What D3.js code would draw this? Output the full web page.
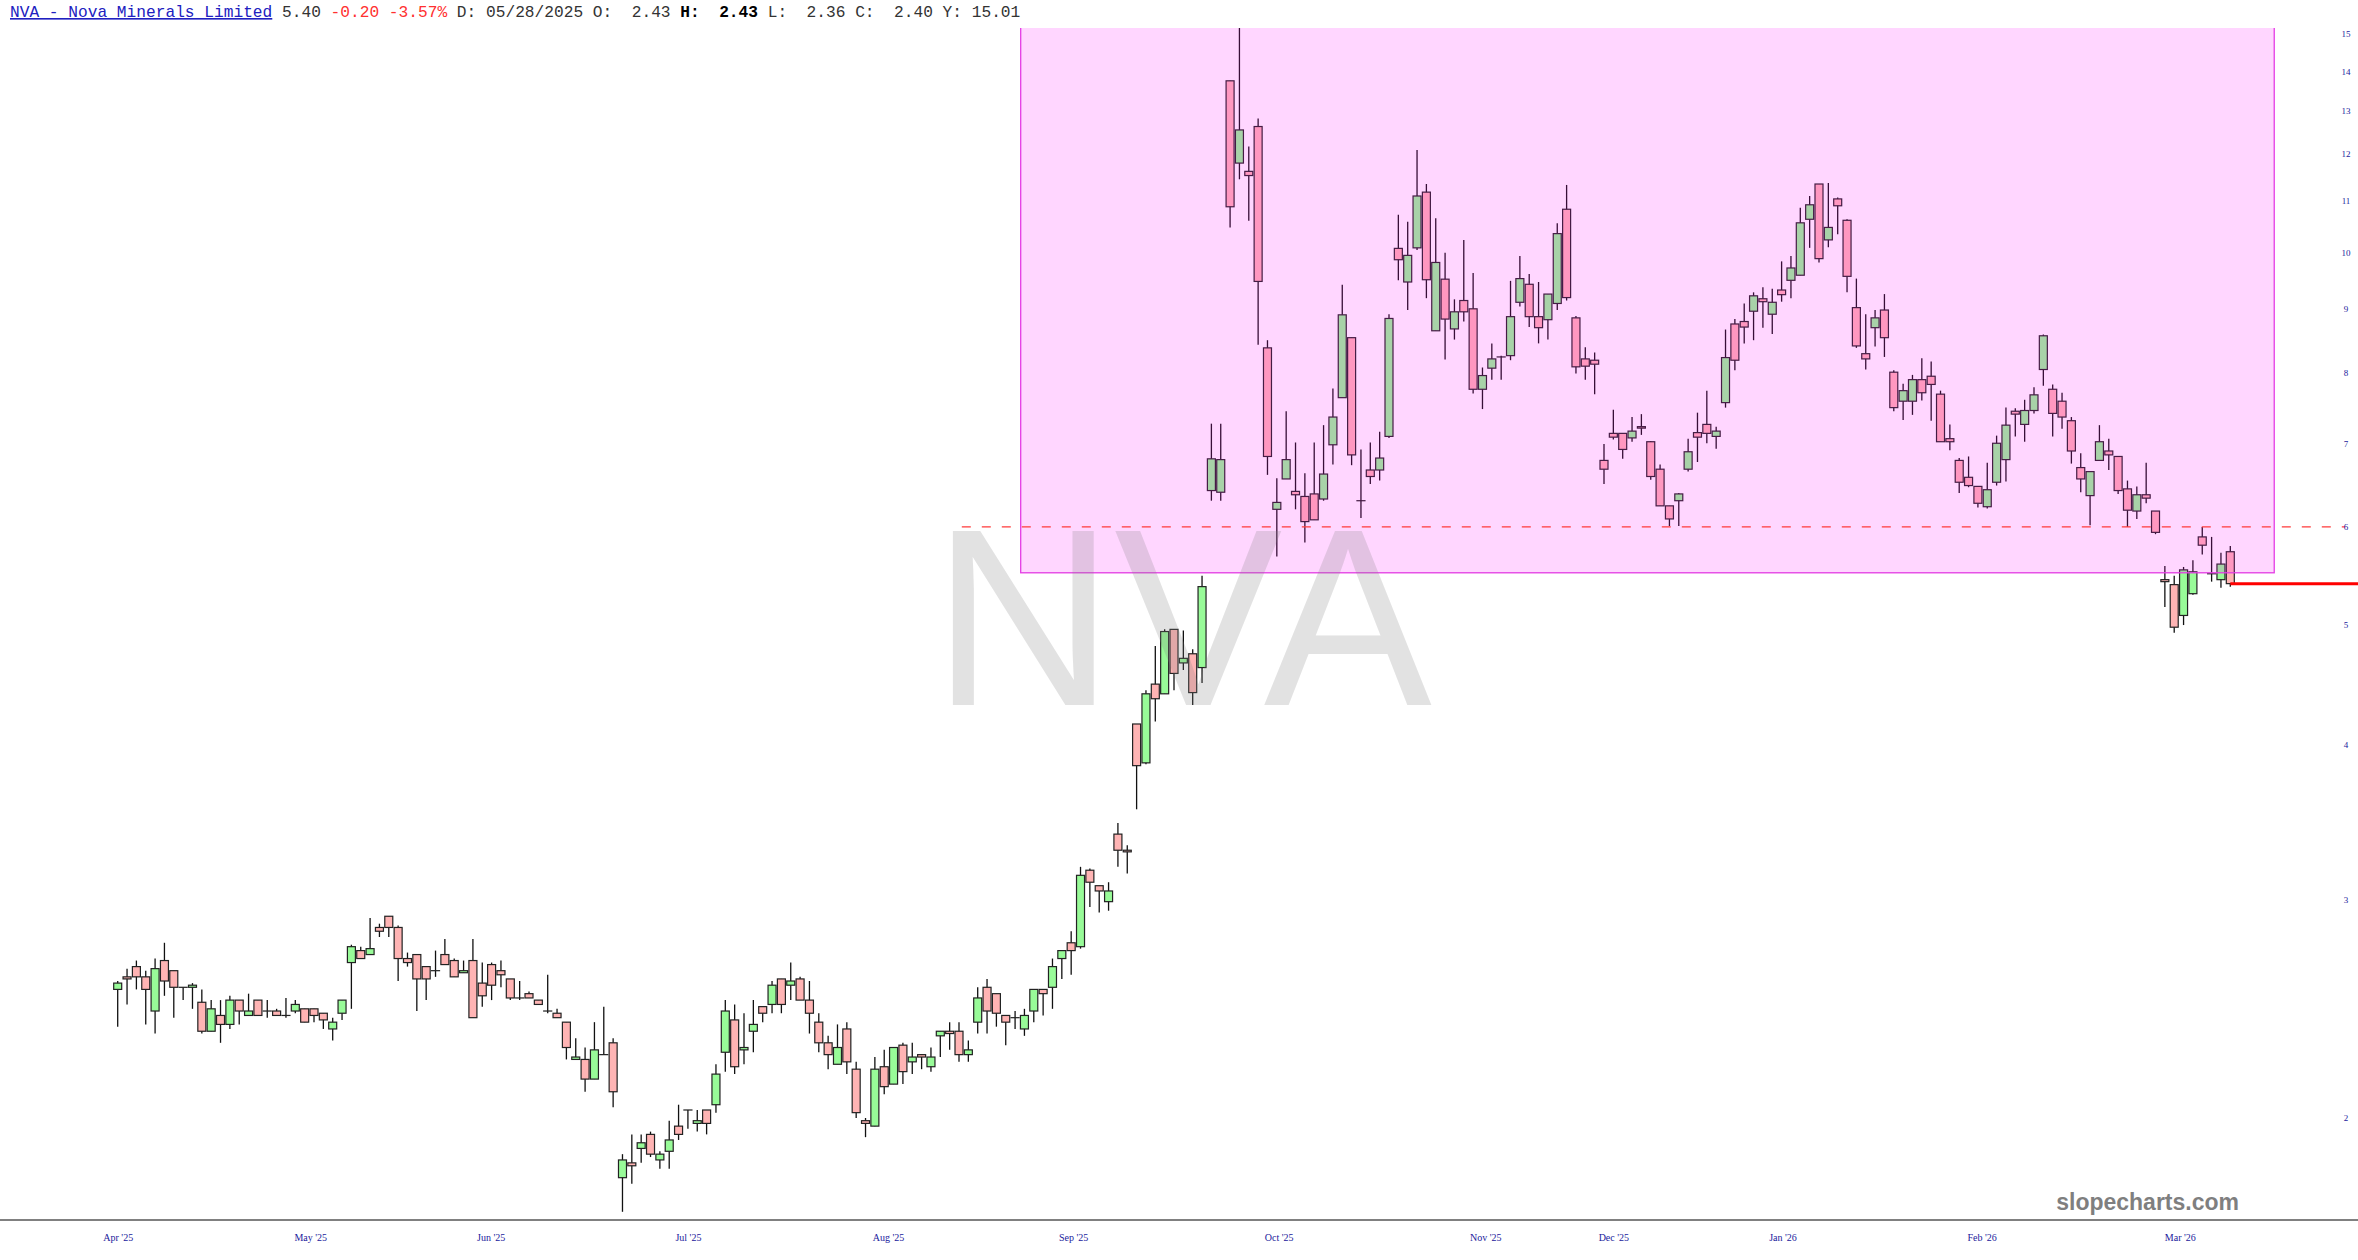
<!DOCTYPE html>
<html>
<head>
<meta charset="utf-8">
<script src="https://cdnjs.cloudflare.com/ajax/libs/d3/7.8.5/d3.min.js"></script>
<style>
  body { margin: 0; background: #fff; }
  svg { display: block; }
</style>
</head>
<body>
<div id="chart"></div>
<script>
// daily candles, Apr '25 -> Mar '26
const opens = [2.54,2.60,2.65,2.60,2.44,2.68,2.63,2.55,2.55,2.48,2.35,2.42,2.38,2.49,2.42,2.49,2.44,2.44,2.42,2.44,
  2.45,2.45,2.43,2.36,2.43,2.67,2.73,2.71,2.85,2.91,2.85,2.69,2.71,2.65,2.63,2.71,2.68,2.62,2.68,2.57,
  2.66,2.63,2.59,2.50,2.52,2.49,2.44,2.43,2.39,2.23,2.23,2.15,2.25,2.30,1.79,1.84,1.89,1.94,1.85,1.88,
  1.97,2.03,1.98,2.03,2.05,2.26,2.40,2.27,2.35,2.46,2.47,2.59,2.56,2.59,2.49,2.39,2.30,2.21,2.36,2.19,
  1.99,1.97,2.20,2.13,2.29,2.22,2.25,2.20,2.33,2.35,2.35,2.25,2.39,2.55,2.52,2.42,2.41,2.36,2.44,2.54,
  2.55,2.69,2.77,2.75,3.17,3.08,2.99,3.39,3.29,4.16,3.87,4.48,4.40,4.96,4.66,4.74,4.62,6.42,6.40,13.75,
  11.80,11.62,12.63,8.37,6.20,6.56,6.41,6.35,6.38,6.32,6.99,7.63,8.53,6.30,6.67,6.67,7.10,10.07,9.46,10.08,
  11.18,8.64,9.51,8.67,9.14,9.00,7.75,8.06,8.23,8.25,9.11,9.42,8.87,8.82,9.09,10.83,8.85,8.20,8.18,6.79,
  7.14,7.14,7.08,7.23,7.03,6.68,6.24,6.30,6.68,7.15,7.26,7.10,7.56,8.75,8.79,8.96,9.17,8.91,9.32,9.49,
  9.58,10.63,11.35,10.23,11.04,10.61,9.02,8.28,8.69,8.98,8.00,7.58,7.58,7.89,7.94,7.68,7.07,6.79,6.58,6.47,
  6.23,6.52,6.80,7.44,7.26,7.45,8.04,7.75,7.58,7.31,6.70,6.36,6.79,6.91,6.84,6.44,6.18,6.37,6.18,5.44,
  5.39,5.09,5.30,5.89,5.50,5.44,5.73];
const highs = [2.58,2.64,2.68,2.63,2.69,2.77,2.63,2.55,2.57,2.54,2.49,2.49,2.51,2.49,2.52,2.49,2.49,2.45,2.50,2.49,
  2.45,2.45,2.43,2.41,2.49,2.76,2.75,2.90,2.87,2.91,2.86,2.72,2.71,2.65,2.73,2.79,2.69,2.68,2.79,2.67,
  2.67,2.68,2.59,2.58,2.53,2.49,2.61,2.45,2.39,2.32,2.28,2.39,2.46,2.32,1.87,1.94,1.94,1.95,1.88,1.99,
  2.05,2.03,2.03,2.03,2.21,2.49,2.47,2.43,2.49,2.46,2.58,2.59,2.67,2.60,2.58,2.43,2.33,2.38,2.39,2.22,
  2.00,2.24,2.27,2.28,2.30,2.30,2.25,2.28,2.35,2.39,2.39,2.31,2.55,2.59,2.52,2.42,2.44,2.45,2.54,2.54,
  2.69,2.73,2.83,3.19,3.18,3.08,3.10,3.46,3.32,4.16,4.43,4.81,4.96,4.96,4.95,4.78,5.48,7.27,7.27,13.75,
  15.6,12.17,12.82,8.49,6.57,7.44,7.02,6.63,7.02,7.25,7.76,9.41,8.53,6.93,7.02,7.16,8.91,10.72,10.58,12.09,
  11.35,10.65,9.99,9.16,10.23,9.62,8.07,8.44,8.25,9.48,9.93,9.60,9.46,9.25,10.55,11.33,8.88,8.38,8.30,7.00,
  7.46,7.14,7.36,7.40,7.04,6.74,6.24,6.39,7.07,7.42,7.73,7.23,8.66,8.83,9.09,9.28,9.37,9.34,9.83,9.93,
  10.86,11.10,11.35,11.37,11.07,10.63,9.52,8.91,8.98,9.25,8.03,7.83,7.96,8.21,8.16,7.73,7.26,6.82,6.84,6.47,
  6.76,7.11,7.49,7.48,7.60,7.78,8.58,7.82,7.70,7.36,6.88,6.65,7.25,7.07,6.84,6.54,6.47,6.76,6.18,5.58,
  5.48,5.57,5.64,6.00,5.89,5.72,5.79];
const lows = [2.37,2.47,2.54,2.38,2.34,2.51,2.41,2.49,2.45,2.34,2.35,2.30,2.36,2.38,2.42,2.42,2.41,2.42,2.41,2.43,
  2.39,2.39,2.36,2.31,2.40,2.45,2.69,2.71,2.80,2.80,2.58,2.65,2.44,2.49,2.60,2.66,2.60,2.62,2.41,2.46,
  2.49,2.55,2.49,2.49,2.50,2.47,2.43,2.41,2.23,2.23,2.10,2.15,2.25,2.04,1.68,1.77,1.84,1.86,1.82,1.82,
  1.92,1.96,1.95,1.94,2.02,2.18,2.17,2.21,2.26,2.39,2.43,2.43,2.49,2.49,2.34,2.26,2.19,2.21,2.17,2.00,
  1.93,1.97,2.09,2.13,2.13,2.17,2.19,2.18,2.24,2.27,2.22,2.22,2.34,2.34,2.37,2.29,2.36,2.33,2.39,2.42,
  2.45,2.59,2.61,2.74,2.96,2.93,2.94,3.19,3.15,3.55,3.86,4.18,4.40,4.43,4.60,4.31,4.49,6.30,6.30,10.47,
  11.45,10.60,8.42,6.61,5.68,6.56,6.20,5.83,6.08,6.30,6.74,7.63,6.73,6.10,6.50,6.54,7.08,9.49,8.98,10.04,
  9.18,8.64,8.19,8.50,8.79,7.69,7.47,7.89,7.89,8.18,9.04,8.70,8.44,8.50,8.98,9.14,7.98,7.89,7.68,6.50,
  7.06,6.81,7.03,7.12,6.55,6.24,6.01,6.01,6.65,6.77,7.01,6.94,7.49,8.03,8.44,8.49,8.69,8.59,9.12,9.18,
  9.58,10.08,9.81,10.09,10.34,9.28,8.37,8.04,8.39,8.23,7.44,7.32,7.39,7.59,7.31,7.03,6.92,6.39,6.46,6.22,
  6.21,6.48,6.53,7.10,7.03,7.41,7.80,7.10,7.20,6.75,6.40,6.02,6.79,6.67,6.38,6.00,6.09,6.27,5.92,5.17,
  4.93,5.00,5.29,5.70,5.42,5.36,5.37];
const closes = [2.57,2.59,2.60,2.54,2.64,2.58,2.55,2.55,2.56,2.35,2.45,2.38,2.49,2.44,2.44,2.42,2.44,2.42,2.42,2.47,
  2.39,2.42,2.40,2.39,2.49,2.75,2.69,2.74,2.83,2.85,2.69,2.67,2.59,2.59,2.63,2.66,2.60,2.63,2.41,2.51,
  2.56,2.61,2.50,2.50,2.50,2.47,2.44,2.41,2.28,2.24,2.15,2.27,2.25,2.10,1.85,1.83,1.91,1.87,1.87,1.92,
  1.94,2.03,1.99,1.98,2.17,2.44,2.20,2.28,2.38,2.43,2.56,2.47,2.58,2.49,2.43,2.30,2.25,2.28,2.22,2.02,
  1.98,2.19,2.12,2.28,2.18,2.24,2.24,2.24,2.35,2.34,2.25,2.27,2.50,2.44,2.43,2.39,2.41,2.42,2.54,2.52,
  2.65,2.73,2.73,3.14,3.10,3.05,3.05,3.29,3.28,3.85,4.40,4.36,4.94,4.57,4.70,4.41,5.37,6.81,6.80,10.88,
  12.55,11.53,9.47,6.84,6.28,6.80,6.37,6.06,6.08,6.62,7.36,8.90,6.86,6.30,6.59,6.82,8.84,9.86,9.94,11.10,
  9.50,9.81,8.83,8.95,8.95,7.75,7.95,8.20,8.23,8.87,9.52,8.87,8.69,9.25,10.35,9.19,8.08,8.09,8.12,6.68,
  7.09,6.93,7.17,7.21,6.59,6.24,6.09,6.38,6.90,7.09,7.14,7.17,8.22,8.18,8.70,9.22,9.12,9.11,9.24,9.71,
  10.56,10.92,9.88,10.47,10.90,9.56,8.40,8.20,8.85,8.53,7.49,7.73,7.89,7.70,7.82,7.03,7.03,6.52,6.48,6.27,
  6.43,7.01,7.25,7.40,7.45,7.67,8.56,7.41,7.36,6.91,6.56,6.65,7.03,6.86,6.42,6.19,6.37,6.33,5.94,5.42,
  4.98,5.54,5.52,5.80,5.50,5.60,5.40];

// month labels sit at these candle positions
const monthLabels = ["Apr '25","May '25","Jun '25","Jul '25","Aug '25","Sep '25","Oct '25","Nov '25","Dec '25","Jan '26","Feb '26","Mar '26"];
const monthPos = [0, 20.6, 39.9, 61.0, 82.4, 102.2, 124.2, 146.3, 160.0, 178.1, 199.4, 220.6];
const priceTicks = [2,3,4,5,6,7,8,9,10,11,12,13,14,15];

// shaded range + levels
const zoneStart = 96.6, zoneEnd = 230.7, zoneLow = 5.51, zoneHigh = 30;
const supportLevel = 6.0, supportStart = 90.3, supportEnd = 238.3;
const lastClose = closes[closes.length - 1];

const W = 2358, H = 1260;
const plotTop = 28, plotBottom = 1220;

const svg = d3.select("#chart").append("svg")
    .attr("width", W).attr("height", H)
    .style("font-family", "'Liberation Sans', Arial, sans-serif");

svg.append("rect").attr("width", W).attr("height", H).attr("fill", "#fff");

const x = d3.scaleLinear().domain([0, closes.length - 1]).range([117.7, 2230.3]);
const y = d3.scaleLog().domain([2, 15]).range([1118, 34]);

svg.append("defs").append("clipPath").attr("id", "plotclip")
    .append("rect").attr("x", 0).attr("y", plotTop).attr("width", W).attr("height", plotBottom - plotTop);

const plot = svg.append("g").attr("clip-path", "url(#plotclip)");

const candles = closes.map((c, i) => ({i: i, o: opens[i], h: highs[i], l: lows[i], c: c}));
const bodyW = 8;

// wicks
plot.append("g").selectAll("line").data(candles).join("line")
    .attr("x1", d => x(d.i)).attr("x2", d => x(d.i))
    .attr("y1", d => y(d.h)).attr("y2", d => y(d.l))
    .attr("stroke", "#111").attr("stroke-width", 1.3);

// bodies
plot.append("g").selectAll("rect").data(candles).join("rect")
    .attr("x", d => x(d.i) - bodyW / 2)
    .attr("width", bodyW)
    .attr("y", d => y(Math.max(d.o, d.c)))
    .attr("height", d => Math.max(0.01, Math.abs(y(d.o) - y(d.c))))
    .attr("fill", d => d.c >= d.o ? "#98fb98" : "#ffb4b4")
    .attr("stroke", "#222")
    .attr("stroke-width", 1.2);

// big ticker watermark
svg.append("text")
    .attr("x", 1182).attr("y", 705)
    .attr("text-anchor", "middle")
    .attr("font-size", 252)
    .attr("fill", "#808080")
    .attr("fill-opacity", 0.23)
    .text("NVA");

// shaded zone
plot.append("rect")
    .attr("x", x(zoneStart))
    .attr("width", x(zoneEnd) - x(zoneStart))
    .attr("y", y(zoneHigh))
    .attr("height", y(zoneLow) - y(zoneHigh))
    .attr("fill", "#ff00ff").attr("fill-opacity", 0.16)
    .attr("stroke", "#e43ce4").attr("stroke-width", 1.3);

// dashed level
plot.append("line")
    .attr("x1", x(supportStart)).attr("x2", x(supportEnd))
    .attr("y1", y(supportLevel)).attr("y2", y(supportLevel))
    .attr("stroke", "#ff3b3b").attr("stroke-width", 1.3)
    .attr("stroke-dasharray", "9,11");

// last price line
plot.append("line")
    .attr("x1", x(closes.length - 1)).attr("x2", W)
    .attr("y1", y(lastClose)).attr("y2", y(lastClose))
    .attr("stroke", "#ff0000").attr("stroke-width", 3);

// right price axis
const yAxis = d3.axisRight(y).tickValues(priceTicks).tickFormat(d3.format("d")).tickSize(0);
const ya = svg.append("g").attr("transform", "translate(2346,0)").call(yAxis);
ya.select(".domain").remove();
ya.selectAll("text")
    .attr("x", 0).attr("text-anchor", "middle")
    .attr("fill", "#1a1a9c")
    .style("font-family", "'Liberation Serif', serif")
    .style("font-size", "9px");

// bottom axis
svg.append("line").attr("x1", 0).attr("x2", W).attr("y1", plotBottom).attr("y2", plotBottom)
    .attr("stroke", "#808080").attr("stroke-width", 2);
const xAxis = d3.axisBottom(x).tickValues(monthPos).tickFormat((d, i) => monthLabels[i]).tickSize(0);
const xa = svg.append("g").attr("transform", `translate(0,${plotBottom})`).call(xAxis);
xa.select(".domain").remove();
xa.selectAll("text")
    .attr("y", 14)
    .attr("fill", "#1a1a9c")
    .style("font-family", "'Liberation Serif', serif")
    .style("font-size", "10px");

// site mark
svg.append("text")
    .attr("x", 2239).attr("y", 1210)
    .attr("text-anchor", "end")
    .attr("font-size", 23).attr("font-weight", "bold")
    .attr("fill", "#7f7f7f")
    .text("slopecharts.com");

// header line
const hdr = svg.append("text")
    .attr("x", 10).attr("y", 17)
    .attr("xml:space", "preserve")
    .style("font-family", "'Liberation Mono', 'Courier New', monospace")
    .style("font-size", "16.2px")
    .style("white-space", "pre");
hdr.append("tspan").attr("fill", "#2020c0")
    .style("text-decoration", "underline").text("NVA - Nova Minerals Limited");
hdr.append("tspan").attr("fill", "#333").text(" 5.40 ");
hdr.append("tspan").attr("fill", "#ff3030").text("-0.20 -3.57%");
hdr.append("tspan").attr("fill", "#333").text(" D: 05/28/2025 O:  2.43 ");
hdr.append("tspan").attr("fill", "#000").attr("font-weight", "bold").text("H:  2.43");
hdr.append("tspan").attr("fill", "#333").text(" L:  2.36 C:  2.40 Y: 15.01");
</script>
</body>
</html>
